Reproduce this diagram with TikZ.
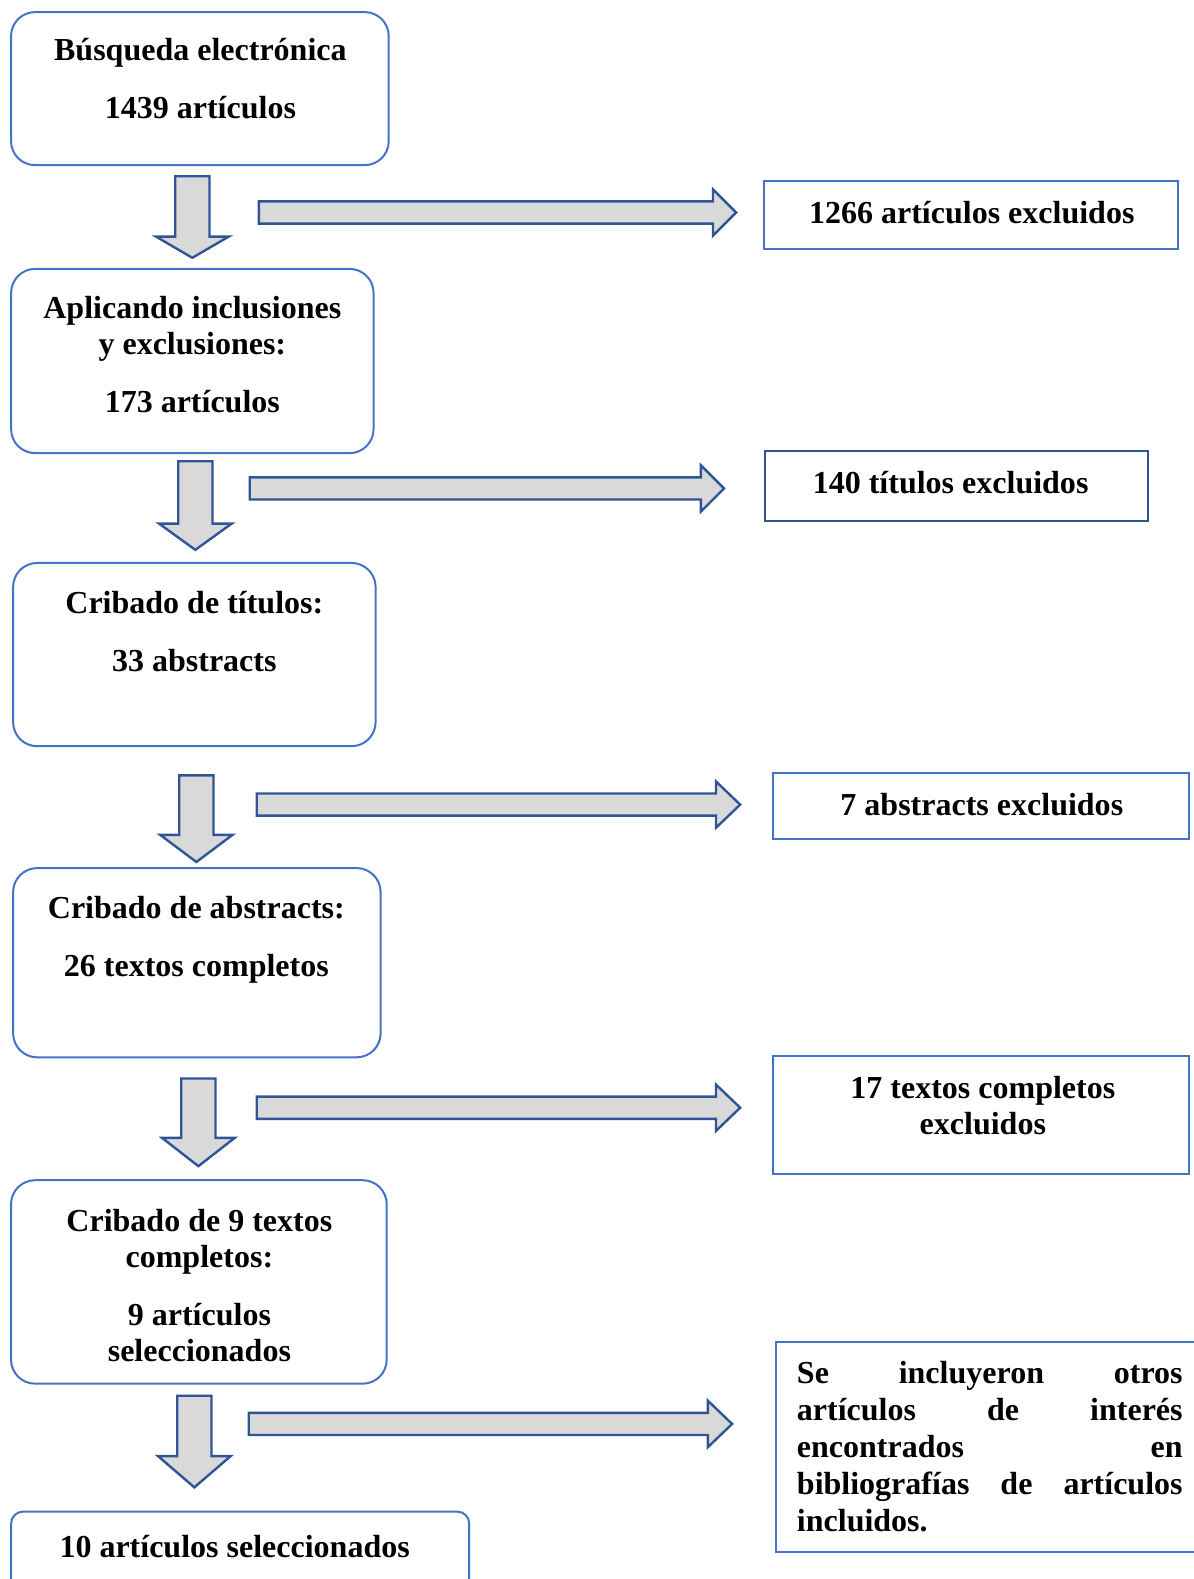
\documentclass[tikz,border=0pt]{standalone}
\usepackage{fontspec}
\setmainfont{Liberation Serif}
\usetikzlibrary{positioning}
\definecolor{boxblue}{HTML}{4472C4}
\definecolor{darkblue}{HTML}{2F5597}
\definecolor{arrowgray}{HTML}{D9D9D9}
\begin{document}
\begin{tikzpicture}
[x=0.5034pt,y=-0.5034pt,
  stagebox/.style={draw=boxblue,line width=1pt,rounded corners=12pt,inner sep=0pt},%
  exclbox/.style={draw=boxblue,line width=1pt,inner sep=0pt},%
  boxtext/.style={font=\fontsize{16}{18}\selectfont\bfseries,align=center,inner sep=0pt,
    execute at begin node=\strut,anchor=north},%
  blockarrow/.style={draw=darkblue,fill=arrowgray,line width=1.2pt,line join=miter}]
\useasboundingbox (0,0) rectangle (1185,1568);
%% stage boxes
\node (busqueda) at (198.5,88) [stagebox,minimum width=188.8pt,minimum height=76.5pt] {};
\node (aplicando) at (191,358.5) [stagebox,minimum width=181.2pt,minimum height=92.1pt] {};
\node (titulos) at (193,650) [stagebox,minimum width=181.2pt,minimum height=91.6pt] {};
\node (abstracts) at (195.5,956) [stagebox,minimum width=183.7pt,minimum height=94.6pt] {};
\node (textos) at (197.5,1273) [stagebox,minimum width=187.8pt,minimum height=101.7pt] {};
\node (seleccion) at (238.5,1550.5) [stagebox,rounded corners=6pt,minimum width=229pt,minimum height=49.8pt] {};
%% excluded boxes
\node (excl1) at (964.5,213.5) [exclbox,minimum width=206.9pt,minimum height=33.7pt] {};
\node (excl2) at (950,482.5) [exclbox,draw=darkblue,minimum width=191.3pt,minimum height=34.7pt] {};
\node (excl3) at (974.5,800.5) [exclbox,minimum width=207.9pt,minimum height=32.7pt] {};
\node (excl4) at (974.5,1107.5) [exclbox,minimum width=207.9pt,minimum height=58.9pt] {};
\node (otros) at (995.5,1437) [exclbox,minimum width=226pt,minimum height=104.7pt] {};
%% texts
\node (busquedatext) at (199,38) [boxtext] {Búsqueda electrónica\\[11pt]1439 artículos};
\node (aplicandotext) at (191,294) [boxtext] {Aplicando inclusiones\\y exclusiones:\\[11pt]173 artículos};
\node (titulostext) at (193,587) [boxtext] {Cribado de títulos:\\[11pt]33 abstracts};
\node (abstractstext) at (195,890) [boxtext] {Cribado de abstracts:\\[11pt]26 textos completos};
\node (textostext) at (198,1200) [boxtext] {Cribado de 9 textos\\completos:\\[11pt]9 artículos\\seleccionados};
\node (selecciontext) at (233,1521) [boxtext] {10 artículos seleccionados};
\node (excl1text) at (965,197) [boxtext] {1266 artículos excluidos};
\node (excl2text) at (944,465) [boxtext] {140 títulos excluidos};
\node (excl3text) at (975,784) [boxtext] {7 abstracts excluidos};
\node (excl4text) at (976,1068) [boxtext] {17 textos completos\\excluidos};
\node (otrostext) at (791,1348) [boxtext,anchor=north west,align=justify,text width=192.8pt,
  font=\fontsize{16}{18.5}\selectfont\bfseries]
  {Se incluyeron otros\linebreak artículos de interés\linebreak encontrados en\linebreak
   bibliografías de artículos\linebreak incluidos.};
%% down arrows
\foreach \cx/\top/\head/\tip in {191/175/235/256, 194/458/520/546, 195/770/829/856,
  197/1071/1130/1158, 193/1386/1446/1477} {
  \draw[blockarrow] (\cx-17,\top) -- (\cx+17,\top) -- (\cx+17,\head) -- (\cx+36,\head)
    -- (\cx,\tip) -- (\cx-36,\head) -- (\cx-17,\head) -- cycle;
}
%% right arrows
\foreach \lx/\hx/\tx/\cy in {257/708/731/211, 248/696/719/485, 255/711/735/799,
  255/711/735/1100, 247/703/727/1414} {
  \draw[blockarrow] (\lx,\cy-11) -- (\hx,\cy-11) -- (\hx,\cy-23) -- (\tx,\cy)
    -- (\hx,\cy+23) -- (\hx,\cy+11) -- (\lx,\cy+11) -- cycle;
}
\end{tikzpicture}
\end{document}
